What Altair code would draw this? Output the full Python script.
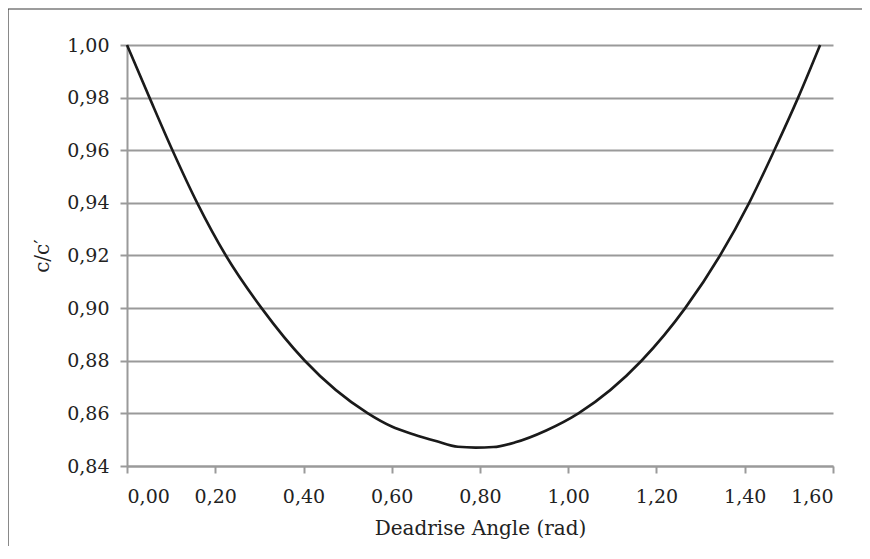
import altair as alt
import pandas as pd

angle = [0.000, 0.051, 0.103, 0.159, 0.224, 0.305, 0.403, 0.546, 0.600, 0.650, 0.700,
         0.750, 0.790, 0.830, 0.880, 0.950, 1.023, 1.166, 1.265, 1.344, 1.410, 1.467,
         1.521, 1.5708]
ratio = [1.000, 0.980, 0.960, 0.940, 0.920, 0.900, 0.880, 0.860, 0.855, 0.852, 0.8495,
         0.8473, 0.847, 0.8472, 0.849, 0.8535, 0.860, 0.880, 0.900, 0.920, 0.940, 0.960,
         0.980, 1.000]

x_ticks = [0.0, 0.2, 0.4, 0.6, 0.8, 1.0, 1.2, 1.4, 1.6]
y_ticks = [0.84, 0.86, 0.88, 0.90, 0.92, 0.94, 0.96, 0.98, 1.00]

df = pd.DataFrame({"angle": angle, "ratio": ratio})

FONT = "DejaVu Serif"
comma = "replace(format(datum.value, '.2f'), '.', ',')"

frame_src = alt.Chart(pd.DataFrame({"d": [0]}))
top_edge = frame_src.mark_rule(color="#3a3a3a", strokeWidth=1.2).encode(
    x=alt.value(-119), x2=alt.value(760), y=alt.value(-36)
)
left_edge = frame_src.mark_rule(color="#3a3a3a", strokeWidth=1.2).encode(
    x=alt.value(-119), y=alt.value(-36), y2=alt.value(560)
)

line = alt.Chart(df).mark_line(
    color="#1a1a1a", strokeWidth=2.6, interpolate="monotone"
).encode(
    x=alt.X("angle:Q",
            scale=alt.Scale(domain=[0, 1.6], nice=False, zero=False),
            axis=alt.Axis(values=x_ticks, labelExpr=comma, title="Deadrise Angle (rad)",
                          grid=False, tickSize=7, labelPadding=14, titlePadding=12)),
    y=alt.Y("ratio:Q",
            scale=alt.Scale(domain=[0.84, 1.0], nice=False, zero=False),
            axis=alt.Axis(values=y_ticks, labelExpr=comma, title="c/c\u2032",
                          grid=True, tickSize=7, labelPadding=11, titlePadding=14)),
)

chart = alt.layer(top_edge, left_edge, line).properties(
    width=706, height=421,
    background="white",
    autosize=alt.AutoSizeParams(type="none"),
    padding={"left": 119, "top": 37, "right": 29, "bottom": 80},
).configure_view(stroke=None).configure_axis(
    labelFont=FONT, titleFont=FONT, labelFontSize=19, titleFontSize=20,
    labelColor="#222222", titleColor="#222222", titleFontWeight="normal",
    domainColor="#9a9a9a", domainWidth=2, tickColor="#9a9a9a", tickWidth=2,
    gridColor="#9a9a9a", gridWidth=2,
)

chart.save("out.html", embed_options={"renderer": "svg", "actions": False})
